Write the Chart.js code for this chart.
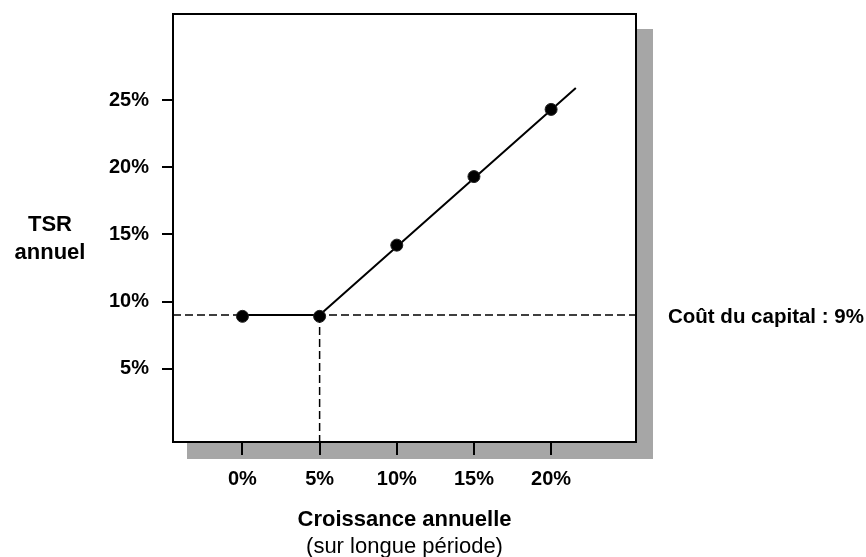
<!DOCTYPE html>
<html>
<head>
<meta charset="utf-8">
<script src="https://cdn.jsdelivr.net/npm/chart.js@4.4.1/dist/chart.umd.min.js"></script>
<style>
  html, body { margin: 0; padding: 0; background: #fff; }
  #wrap { width: 866px; height: 557px; }
</style>
</head>
<body>
<div id="wrap"><canvas id="c"></canvas></div>
<script>
// values (percent)
const growth = [0, 5, 10, 15, 20];
const tsr = [8.9, 8.9, 14.2, 19.3, 24.3];
const lineX = [0, 5, 21.6];
const lineY = [9, 9, 25.9];
const costOfCapital = 9;
const xTicks = [0, 5, 10, 15, 20];
const yTicks = [5, 10, 15, 20, 25];
const xMin = -4.5, xMax = 25.5;
const yMin = -0.45, yMax = 31.4;

const FONT = "'Liberation Sans', Arial, Helvetica, sans-serif";

const pts = (xs, ys) => xs.map((x, i) => ({ x: x, y: ys[i] }));

const decor = {
  id: 'decor',
  beforeDraw(chart) {
    const { ctx, chartArea: a } = chart;
    ctx.save();
    ctx.fillStyle = '#fff';
    ctx.fillRect(0, 0, chart.width, chart.height);
    // drop shadow
    ctx.fillStyle = '#a6a6a6';
    ctx.fillRect(a.left + 14, a.top + 15, a.right - a.left + 3, a.bottom - a.top + 2);
    ctx.fillStyle = '#fff';
    ctx.fillRect(a.left, a.top, a.right - a.left, a.bottom - a.top);
    ctx.restore();
  },
  afterDraw(chart) {
    const { ctx, chartArea: a } = chart;
    ctx.save();
    ctx.strokeStyle = '#000';
    ctx.lineWidth = 2;
    ctx.strokeRect(a.left, a.top, a.right - a.left, a.bottom - a.top);

    ctx.fillStyle = '#000';
    ctx.textAlign = 'center';
    ctx.textBaseline = 'middle';
    const cx = (a.left + a.right) / 2;
    ctx.font = 'bold 22px ' + FONT;
    ctx.fillText('Croissance annuelle', cx, 520);
    ctx.font = '22px ' + FONT;
    ctx.fillText('(sur longue période)', cx, 547);

    ctx.font = 'bold 22px ' + FONT;
    ctx.fillText('TSR', 50, 225);
    ctx.fillText('annuel', 50, 253);

    ctx.textAlign = 'left';
    ctx.font = 'bold 20.5px ' + FONT;
    const yc = chart.scales.y.getPixelForValue(costOfCapital);
    ctx.fillText('Coût du capital : 9%', 668, yc + 2);
    ctx.restore();
  }
};

new Chart(document.getElementById('c'), {
  type: 'scatter',
  data: {
    datasets: [
      {
        label: 'TSR',
        data: pts(growth, tsr),
        backgroundColor: '#000',
        borderColor: '#222',
        borderWidth: 1,
        pointRadius: 6,
        showLine: false
      },
      {
        label: 'droite',
        data: pts(lineX, lineY),
        showLine: true,
        borderColor: '#000',
        borderWidth: 2,
        pointRadius: 0
      },
      {
        label: 'coût du capital',
        data: pts([xMin, xMax], [costOfCapital, costOfCapital]),
        showLine: true,
        borderColor: '#000',
        borderWidth: 1.5,
        borderDash: [8, 4],
        pointRadius: 0
      },
      {
        label: 'seuil',
        data: pts([5, 5], [costOfCapital, yMin]),
        showLine: true,
        borderColor: '#000',
        borderWidth: 1.5,
        borderDash: [8, 4],
        pointRadius: 0
      }
    ]
  },
  options: {
    responsive: true,
    maintainAspectRatio: false,
    animation: false,
    layout: { padding: { left: 0, right: 230, top: 14, bottom: 0 } },
    plugins: { legend: { display: false }, tooltip: { enabled: false } },
    scales: {
      x: {
        type: 'linear',
        min: xMin,
        max: xMax,
        afterBuildTicks: (axis) => { axis.ticks = xTicks.map(v => ({ value: v })); },
        afterFit: (axis) => { axis.height = 115; axis.paddingLeft = 0; axis.paddingRight = 0; },
        border: { display: false },
        grid: { drawOnChartArea: false, drawTicks: true, tickLength: 13, color: '#000', lineWidth: 2 },
        ticks: {
          autoSkip: false,
          maxRotation: 0,
          padding: 12,
          color: '#000',
          font: { family: FONT, size: 20, weight: 'bold' },
          callback: (v) => v + '%'
        }
      },
      y: {
        type: 'linear',
        min: yMin,
        max: yMax,
        afterBuildTicks: (axis) => { axis.ticks = yTicks.map(v => ({ value: v })); },
        afterFit: (axis) => { axis.width = 173; axis.paddingTop = 0; axis.paddingBottom = 0; },
        border: { display: false },
        grid: { drawOnChartArea: false, drawTicks: true, tickLength: 11, color: '#000', lineWidth: 2 },
        ticks: {
          autoSkip: false,
          padding: 13,
          color: '#000',
          font: { family: FONT, size: 20, weight: 'bold' },
          callback: (v) => v + '%'
        }
      }
    }
  },
  plugins: [decor]
});
</script>
</body>
</html>
